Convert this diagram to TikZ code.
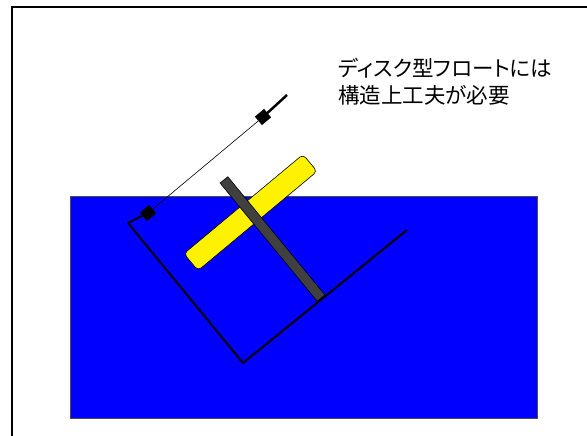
\documentclass[tikz,border=0pt]{standalone}
\usepackage{fontspec}
\newfontfamily\jpfont[RawFeature=+palt]{Noto Sans CJK JP}
\usetikzlibrary{positioning}
\definecolor{waterblue}{RGB}{0,0,255}
\definecolor{mastgrey}{RGB}{64,64,64}
\tikzset {
    water/.style={
        fill=waterblue,
        draw=black!70,
        line width=1pt,
    },
    disk/.style={
        fill=yellow,
        draw=black,
        line width=0.6pt,
        rectangle, % the float seen edge-on
        rounded corners=4pt,
        minimum width=155pt,
        minimum height=22pt,
        inner sep=0pt,
    },
    mast/.style={
        fill=mastgrey,
        draw=black,
        line width=0.6pt,
        rectangle,
        minimum width=153pt,
        minimum height=10pt,
        inner sep=0pt,
    },
    clamp/.style={
        fill=black,
        rectangle,
        minimum width=12pt,
        minimum height=11pt,
        inner sep=0pt,
    },
    arm/.style={line width=2pt, line join=round},
}

\begin{document}
\begin{tikzpicture}[x=1pt, y=-1pt]
\useasboundingbox (0,0) rectangle (587,436);

% outer frame, running off the page
\draw[line width=2pt] (12,440) -- (12,7) -- (590,7);

\draw[water] (70,196) rectangle (537,418);

% bent support
\coordinate (tip) at (128,223);
\coordinate (bottom) at (243,363);
\coordinate (end) at (407,230);
\draw[arm] (tip) -- (bottom) -- (end);

\node[disk, rotate=39.8] (float) at (250.5,212.5) {};
\node[mast, rotate=-50.6] (rod) at (272.5,239) {};

% guide wire with its two clamps
\node[clamp, rotate=40] (lower) at (148,213) {};
\node[clamp, rotate=40] (upper) at (263,117) {};
\coordinate (top) at (287,95);
\draw[arm] (tip) -- (lower.center);
\draw[line width=0.6pt] (lower) -- (upper);
\draw[line width=2.5pt] (upper.center) -- (top);

\node[anchor=north west, inner sep=0pt, align=left,
      font=\jpfont\fontsize{21.5}{27}\selectfont] (note) at (338,58)
      {ディスク型フロートには\\構造上工夫が必要};
\end{tikzpicture}
\end{document}
